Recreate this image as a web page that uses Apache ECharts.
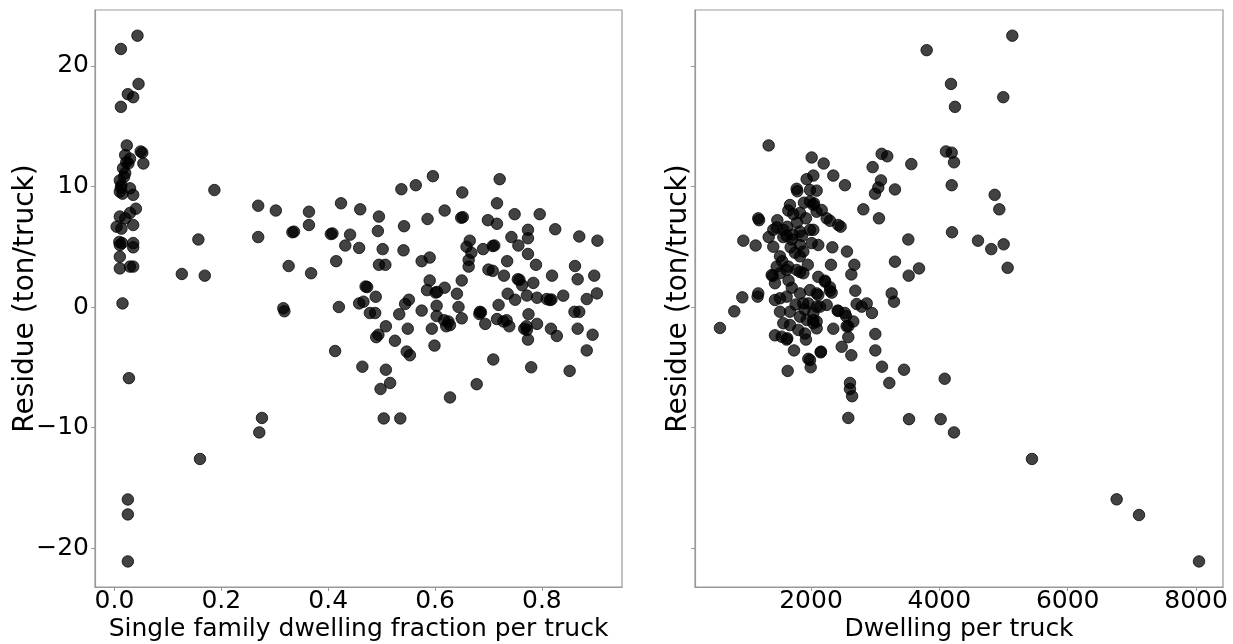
<!DOCTYPE html>
<html>
<head>
<meta charset="utf-8">
<script src="https://cdn.jsdelivr.net/npm/echarts@6/dist/echarts.min.js"></script>
<style>
html,body{margin:0;padding:0;background:#fff;}
#chart{width:1233px;height:644px;}
</style>
</head>
<body>
<div id="chart"></div>
<script>
// ---- Data ----
// Left panel: [single family dwelling fraction per truck, residue]
const leftNearZero = [
  [0.043,22.5],[0.012,21.4],[0.045,18.5],[0.025,17.65],[0.035,17.4],[0.012,16.6],
  [0.023,13.4],[0.049,12.9],[0.052,12.8],[0.054,11.9],[0.020,12.6],[0.029,12.3],
  [0.026,11.9],[0.022,12.0],[0.016,11.5],[0.020,11.1],[0.018,10.8],[0.010,10.5],
  [0.013,10.1],[0.012,9.9],[0.010,9.56],[0.029,9.84],[0.035,9.3],[0.015,9.4],
  [0.040,8.15],[0.029,7.8],[0.010,7.5],[0.020,7.35],[0.004,6.66],[0.013,6.5],
  [0.035,6.8],[0.010,5.14],[0.009,5.4],[0.014,5.3],[0.035,5.3],[0.035,4.95],
  [0.010,4.17],[0.010,3.2],[0.029,3.35],[0.035,3.35],[0.015,0.3],[0.027,-5.9],
  [0.025,-15.96],[0.025,-17.2],[0.025,-21.1]
];
const leftSpread = [
  [0.187,9.7],[0.269,8.4],[0.302,8.0],[0.269,5.8],[0.157,5.6],[0.126,2.74],[0.169,2.6],
  [0.326,3.4],[0.316,-0.1],[0.318,-0.35],[0.276,-9.2],[0.271,-10.4],[0.160,-12.6],
  [0.596,10.85],[0.721,10.6],[0.564,10.1],[0.537,9.77],[0.651,9.5],[0.716,8.6],[0.424,8.6],
  [0.460,8.1],[0.364,7.9],[0.618,8.0],[0.649,7.4],[0.652,7.45],[0.749,7.7],[0.796,7.7],
  [0.495,7.5],[0.586,7.3],[0.364,6.8],[0.699,7.2],[0.716,6.9],[0.542,6.7],[0.493,6.3],
  [0.333,6.2],[0.336,6.25],[0.405,6.05],[0.408,6.1],[0.441,6.0],[0.825,6.45],[0.870,5.85],
  [0.904,5.5],[0.774,6.4],[0.774,5.7],[0.743,5.8],[0.432,5.1],[0.458,4.9],[0.502,4.8],
  [0.541,4.7],[0.665,5.5],[0.659,5.0],[0.668,4.5],[0.663,3.9],[0.663,3.35],[0.690,4.8],
  [0.708,5.06],[0.711,5.1],[0.756,5.1],[0.774,4.4],[0.590,4.1],[0.575,3.8],[0.415,3.8],
  [0.368,2.8],[0.495,3.5],[0.507,3.5],[0.735,3.8],[0.789,3.5],[0.862,3.4],[0.700,3.1],
  [0.708,3.0],[0.729,2.6],[0.755,2.3],[0.758,2.25],[0.763,1.8],[0.784,2.0],[0.819,2.6],
  [0.867,2.3],[0.898,2.6],[0.650,2.2],[0.590,2.2],[0.585,1.4],[0.601,1.2],[0.604,1.25],
  [0.618,1.6],[0.641,1.1],[0.470,1.7],[0.473,1.65],[0.489,0.85],[0.466,0.44],[0.458,0.3],
  [0.420,0.0],[0.478,-0.5],[0.488,-0.5],[0.551,0.6],[0.544,0.25],[0.533,-0.6],[0.575,-0.3],
  [0.603,0.1],[0.644,0.0],[0.736,1.1],[0.750,0.6],[0.772,0.95],[0.791,0.77],[0.809,0.66],
  [0.815,0.58],[0.818,0.62],[0.840,0.94],[0.884,0.66],[0.903,1.13],[0.719,0.17],[0.684,-0.4],
  [0.686,-0.45],[0.775,-0.6],[0.861,-0.4],[0.870,-0.4],
  [0.508,-1.6],[0.494,-2.3],[0.490,-2.5],[0.549,-1.8],[0.525,-2.8],[0.547,-3.7],[0.553,-4.0],
  [0.413,-3.65],[0.464,-4.95],[0.508,-5.2],[0.516,-6.3],[0.498,-6.8],[0.504,-9.24],[0.535,-9.24],
  [0.594,-1.8],[0.603,-0.75],[0.617,-1.1],[0.625,-1.2],[0.621,-1.6],[0.628,-1.5],[0.599,-3.2],
  [0.650,-0.94],[0.628,-7.5],[0.683,-0.58],[0.694,-1.4],[0.678,-6.4],[0.709,-4.35],[0.716,-1.0],
  [0.728,-1.2],[0.734,-1.1],[0.739,-1.6],[0.767,-1.8],[0.772,-1.9],[0.771,-1.6],[0.774,-2.7],
  [0.791,-1.4],[0.780,-5.0],[0.817,-1.8],[0.828,-2.4],[0.852,-5.3],[0.867,-1.8],[0.884,-3.6],
  [0.895,-2.3]
];
// Right panel: [dwelling per truck, residue]
const rightOuter = [
  [5137,22.5],[3802,21.3],[4181,18.5],[4996,17.4],[4243,16.6],[4103,12.9],[4192,12.8],
  [4228,12.0],[3563,11.85],[4192,10.1],[4862,9.3],[4934,8.1],[4197,6.2],[3516,5.6],
  [4602,5.5],[4809,4.8],[5002,5.2],[3683,3.2],[3522,2.6],[5064,3.25],[3449,-5.2],
  [4083,-5.95],[3527,-9.3],[4020,-9.3],[4228,-10.4],[5443,-12.6],[6763,-15.95],
  [7111,-17.25],[8046,-21.1]
];
const rightCluster = [
  [1340,13.4],[2010,12.4],[2197,11.9],[3101,12.7],[3188,12.5],[2960,11.6],[1932,10.6],
  [2036,10.9],[2347,10.9],[2529,10.1],[1776,9.8],[1786,9.6],[1984,9.7],[2088,9.65],
  [3090,10.5],[3048,9.9],[2997,9.4],[3308,9.75],[2815,8.1],[3059,7.35],[3308,3.76],
  [3257,1.13],[3293,0.44],[2560,4.6],[2332,4.95],[2675,3.5],[2628,2.7],[2311,3.5],
  [2218,2.1],[2296,1.35],[2690,1.35],[2711,0.25],[2790,0.03],[2868,0.3],[2950,-0.5],
  [2415,-0.3],[2545,-0.75],[2659,-1.2],[2581,-1.6],[2581,-2.5],[3002,-2.24],[3002,-3.6],
  [2628,-4.0],[2478,-3.3],[2347,-1.8],[3106,-4.95],[3220,-6.3],[2607,-6.3],[2607,-6.8],
  [2640,-7.4],[2581,-9.2],
  [581,-1.74],[804,-0.36],[929,0.8],[1178,1.13],[1168,0.86],[945,5.5],[1137,5.1],
  [1178,7.35],[1190,7.2],[1340,5.8],[1475,7.2],[1438,-2.35],[1636,-5.3],[1735,-3.6],
  [1620,-2.7],[1921,-2.7],[1958,-4.3],[1995,-5.0],[2150,-3.76],
  [1672,8.46],[1646,8.0],[1724,7.7],[1828,7.8],[1921,7.35],[1890,8.65],[1984,8.75],
  [2036,8.46],[2088,7.9],[1465,6.6],[1412,6.4],[1568,6.4],[1630,6.65],[1568,5.8],
  [1620,5.9],[1828,6.25],[1984,6.4],[1412,5.0],[1683,4.95],[1828,5.14],[2010,5.3],
  [1516,4.2],[1828,4.2],[1465,3.35],[1646,3.35],[1387,2.65],[1776,3.07],[1880,2.8],
  [2113,2.5],
  [1402,2.57],[1438,1.97],[1516,0.72],[1438,0.58],[1620,0.86],[1516,-0.39],[1672,-0.39],
  [1568,-1.35],[1672,-1.5],[1828,1.13],[1880,0.3],[1828,-0.8],[1932,-1.08],[1802,-1.9],
  [1906,-2.2],[2036,-1.08],[2088,-1.77],[1542,-2.46],[1630,-2.6],[1828,2.9],[1516,2.8],
  [1620,3.07],[1984,1.4],[2088,1.13],[1958,0.3],[2088,0.03],[2036,-0.5],
  [2046,8.6],[2166,8.04],[2244,7.35],[2296,7.15],[2425,6.8],[2462,6.66],[2036,6.4],
  [2113,5.14],[2218,2.18],[2296,1.63],[2322,1.19],[2113,1.0],[2140,0.03],[2244,0.17],
  [2425,-0.33],[2529,-0.5],[2036,-1.35],[2088,-1.2],[2555,-1.6],[2155,-3.7],[1984,-4.4],
  [1700,5.6],[1750,4.5],[1880,4.6],[1720,6.0],[1550,3.8],[1950,3.5],[1700,1.6],
  [1760,0.2],[1900,-0.2],[1650,2.2],[1860,5.9],[1780,7.0]
];
// Tick values / labels
const leftXTicks = [0.0, 0.2, 0.4, 0.6, 0.8];
const rightXTicks = [2000, 4000, 6000, 8000];
const yTicks = [-20, -10, 0, 10, 20];
const leftXName = 'Single family dwelling fraction per truck';
const rightXName = 'Dwelling per truck';
const yName = 'Residue (ton/truck)';

// ---- Chart ----
const FONT = 'DejaVu Sans';
const frame = '#999999';
const chart = echarts.init(document.getElementById('chart'), null, {renderer: 'canvas'});

function xAxisCfg(gridIndex, min, max, ticks, name, fmt) {
  return {
    type: 'value', gridIndex, min, max,
    name, nameLocation: 'middle', nameGap: 30, nameMoveOverlap: false,
    nameTextStyle: {fontFamily: FONT, fontSize: 25, color: '#000'},
    axisLine: {show: true, onZero: false, lineStyle: {color: frame, width: 1.2}},
    axisTick: {show: true, length: 4, inside: false, customValues: ticks, lineStyle: {color: frame}},
    axisLabel: {show: true, customValues: ticks, formatter: fmt, margin: 2,
      fontFamily: FONT, fontSize: 25, color: '#000'},
    splitLine: {show: false}
  };
}
function yAxisCfg(gridIndex, showLabels, nameGap) {
  return {
    type: 'value', gridIndex, min: -23.22, max: 24.63,
    name: yName, nameLocation: 'middle', nameGap, nameMoveOverlap: false,
    nameTextStyle: {fontFamily: FONT, fontSize: 28, color: '#000'},
    axisLine: {show: true, onZero: false, lineStyle: {color: frame, width: 1.2}},
    axisTick: {show: true, length: 4, inside: false, customValues: yTicks, lineStyle: {color: frame}},
    axisLabel: {show: showLabels, customValues: yTicks, margin: 6,
      formatter: v => (v < 0 ? '\u2212' + Math.abs(v) : String(v)),
      fontFamily: FONT, fontSize: 25, color: '#000'},
    splitLine: {show: false}
  };
}
const pointStyle = {color: '#000', borderColor: '#000', borderWidth: 1, opacity: 0.74};

chart.setOption({
  animation: false,
  backgroundColor: '#fff',
  grid: [
    {left: 95, top: 10, width: 527, height: 577, outerBoundsMode: 'none', containLabel: false,
     show: true, borderColor: frame, borderWidth: 1.2, backgroundColor: 'transparent'},
    {left: 695, top: 10, width: 528, height: 577, outerBoundsMode: 'none', containLabel: false,
     show: true, borderColor: frame, borderWidth: 1.2, backgroundColor: 'transparent'}
  ],
  xAxis: [
    xAxisCfg(0, -0.0365, 0.95, leftXTicks, leftXName, v => v.toFixed(1)),
    xAxisCfg(1, 192, 8420, rightXTicks, rightXName, v => String(v))
  ],
  yAxis: [
    yAxisCfg(0, true, 55),
    yAxisCfg(1, false, 2)
  ],
  series: [
    {type: 'scatter', xAxisIndex: 0, yAxisIndex: 0, data: leftNearZero.concat(leftSpread),
     symbol: 'circle', symbolSize: 11.5, itemStyle: pointStyle},
    {type: 'scatter', xAxisIndex: 1, yAxisIndex: 1, data: rightOuter.concat(rightCluster),
     symbol: 'circle', symbolSize: 11.5, itemStyle: pointStyle}
  ]
});
</script>
</body>
</html>
